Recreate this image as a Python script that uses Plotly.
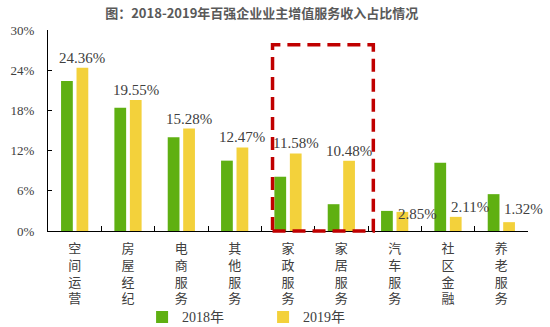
import plotly.graph_objects as go

categories = ["空间运营", "房屋经纪", "电商服务", "其他服务", "家政服务",
              "家居服务", "汽车服务", "社区金融", "养老服务"]
values_2018 = [22.4, 18.4, 14.0, 10.5, 8.1, 4.0, 3.0, 10.2, 5.5]
values_2019 = [24.36, 19.55, 15.28, 12.47, 11.58, 10.48, 2.85, 2.11, 1.32]
y_ticks = [0, 6, 12, 18, 24, 30]

GREEN = "#5FB012"
YELLOW = "#F3D13B"
SERIF = "Liberation Serif, Noto Sans CJK SC, serif"
CJK = "Noto Sans CJK SC, sans-serif"
Y_MAX = 30

tick_text = ["<br>".join(list(c)) for c in categories]

fig = go.Figure()
fig.add_trace(go.Bar(name="2018年", x=categories, y=values_2018,
                     marker=dict(color=GREEN, line=dict(width=0))))
fig.add_trace(go.Bar(name="2019年", x=categories, y=values_2019,
                     marker=dict(color=YELLOW, line=dict(width=0))))

# value labels for 2019
label_style = dict(font=dict(family=SERIF, size=15, color="#404040"), showarrow=False)
for i, (c, v) in enumerate(zip(categories, values_2019)):
    txt = f"{v:.2f}%"
    if i < 6:
        fig.add_annotation(x=c, y=v, text=txt, xshift=7.5, yshift=0,
                           xanchor="center", yanchor="bottom", **label_style)
    else:
        dy = [-2, 10, 13][i - 6]
        fig.add_annotation(x=c, y=v, text=txt, xshift=1, yshift=dy,
                           xanchor="left", yanchor="middle", **label_style)

# red dashed highlight box around 家政服务 / 家居服务
fig.add_shape(type="rect", xref="x", yref="paper",
              x0=4 - 0.29, x1=5 + 0.6, y0=0, y1=27.8 / Y_MAX,
              line=dict(color="#C00000", width=3.5, dash="13px,7px"),
              fillcolor="rgba(0,0,0,0)", layer="above")

fig.update_layout(
    width=550, height=327,
    margin=dict(l=48, r=22, t=30, b=96, autoexpand=False),
    paper_bgcolor="white", plot_bgcolor="white",
    barmode="group", bargap=0.42, bargroupgap=0.24,
    title=dict(text="<b>图：2018-2019年百强企业业主增值服务收入占比情况</b>",
               x=0.476, xanchor="center", xref="container",
               y=1 - 13 / 327, yanchor="middle", yref="container",
               font=dict(family=CJK, size=13, color="#595959")),
    showlegend=True,
    legend=dict(orientation="h", x=0.196, xanchor="left",
                y=-0.43, yanchor="middle",
                font=dict(family=SERIF, size=14, color="#404040"),
                itemwidth=30, entrywidth=76, entrywidthmode="pixels",
                bgcolor="rgba(0,0,0,0)", itemclick=False),
)
fig.update_xaxes(
    tickmode="array", tickvals=categories, ticktext=tick_text,
    range=[-0.5, len(categories) - 0.5],
    showline=True, linecolor="black", linewidth=1.3,
    ticks="inside", tickson="boundaries", ticklen=5, tickcolor="black",
    showgrid=False, zeroline=False, ticklabelstandoff=5, automargin=False,
    tickfont=dict(family=CJK, size=13, color="#404040"),
)
fig.update_yaxes(
    range=[0, Y_MAX], tickmode="array", tickvals=y_ticks,
    ticktext=[f"{t}%" for t in y_ticks],
    showline=True, linecolor="black", linewidth=1.3,
    ticks="inside", ticklen=4, tickcolor="black", automargin=False,
    showgrid=False, zeroline=False, ticklabelstandoff=10,
    tickfont=dict(family=SERIF, size=13, color="#404040"),
)

fig.write_html("out.html")
